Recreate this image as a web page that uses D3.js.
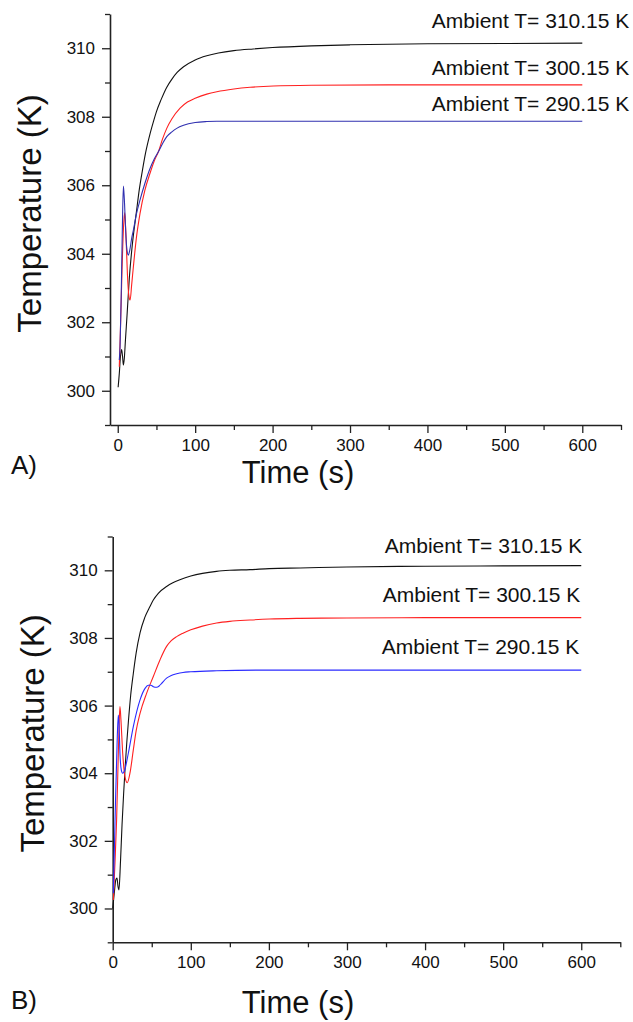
<!DOCTYPE html>
<html>
<head>
<meta charset="utf-8">
<script src="https://cdn.jsdelivr.net/npm/d3@7"></script>
<style>
  body { margin: 0; background: #fff; }
  text { font-family: "Liberation Sans", Arial, sans-serif; fill: #111; }
</style>
</head>
<body>
<div id="chart"></div>
<script>
// ---- data ----
const seriesLabels = ["Ambient T= 310.15 K", "Ambient T= 300.15 K", "Ambient T= 290.15 K"];
const xMajorTicks = [0, 100, 200, 300, 400, 500, 600];
const xMinorTicks = [50, 150, 250, 350, 450, 550, 650];
const yMajorTicks = [300, 302, 304, 306, 308, 310];
const yMinorTicks = [299, 301, 303, 305, 307, 309, 311];

// panel A : [time (s), temperature (K)]
const a_T310 = [[0.5,300.1],[2,300.5],[3.5,301.0],[5,301.2],[6.2,301.0],[7.3,300.75],[8.5,300.95],[10,301.5],[12,302.2],[15,303.3],[19,304.3],[24,305.2],[28,305.9],[32,306.45],[36,306.95],[41.7,307.5],[46,307.85],[50,308.15],[56,308.5],[63,308.85],[70,309.1],[77,309.3],[85,309.46],[100,309.66],[115,309.78],[130,309.86],[150,309.93],[175,309.98],[200,310.02],[250,310.07],[300,310.1],[400,310.13],[500,310.14],[600,310.15]];
const a_T300 = [[2,300.7],[3.5,301.8],[5.5,303.5],[7.5,304.8],[9,305.2],[10.5,304.6],[12.5,303.4],[14.5,302.75],[16,302.65],[18,303.1],[20.2,303.62],[24,304.45],[28.8,305.18],[35,305.85],[41.7,306.35],[47,306.7],[52.5,306.98],[58,307.36],[63.3,307.66],[70,307.94],[80.5,308.25],[90,308.43],[100,308.54],[115,308.66],[128,308.73],[150,308.81],[171,308.86],[201,308.9],[250,308.92],[350,308.93],[600,308.93]];
const a_T290 = [[2,300.9],[3,301.3],[4.5,302.8],[6,304.8],[7.3,305.98],[8.5,305.6],[10,304.8],[11.5,304.2],[13.7,303.96],[15.5,304.1],[18,304.45],[20.2,304.69],[24,305.15],[28.8,305.57],[35,306.05],[41.7,306.49],[47,306.76],[52.5,306.98],[58,307.22],[63.3,307.42],[70,307.56],[76.2,307.66],[85,307.75],[100,307.83],[115,307.86],[128,307.87],[200,307.87],[600,307.87]];

// panel B
const b_T310 = [[0,300.0],[2,300.45],[4,300.85],[5.5,300.9],[6.8,300.65],[8,300.55],[10,301.4],[12,302.5],[14,303.4],[16,304.2],[18,304.9],[20,305.5],[23,306.3],[26.4,306.95],[30,307.55],[35,308.15],[41,308.6],[47.7,308.93],[52,309.12],[58.4,309.32],[69,309.52],[77,309.63],[86,309.72],[100,309.83],[115,309.91],[133,309.97],[150,310.0],[175.8,310.02],[200.5,310.05],[240,310.07],[300,310.1],[400,310.12],[500,310.13],[600,310.14]];
const b_T300 = [[0.8,300.25],[3,301.4],[5,302.62],[7.2,304.59],[8.3,305.5],[9.3,305.97],[10.5,305.6],[12.8,304.59],[15.7,303.9],[18.7,303.72],[22.1,304.0],[26.4,304.69],[30,305.25],[35,305.77],[43.5,306.37],[52,306.86],[60.5,307.35],[69,307.75],[75,307.92],[81.9,308.04],[90,308.14],[100,308.24],[115,308.35],[133,308.44],[150,308.49],[175.8,308.53],[200.5,308.56],[240,308.58],[300,308.59],[400,308.6],[600,308.6]];
const b_T290 = [[0.8,300.45],[3,302.6],[5.9,305.1],[7.2,305.72],[8.2,305.4],[9.3,304.59],[11,304.1],[12.7,304.0],[14,304.02],[15.7,304.12],[20,304.59],[26.4,305.38],[35,306.17],[41.4,306.51],[45.6,306.6],[49,306.6],[52,306.56],[56.3,306.54],[59.5,306.58],[62.7,306.66],[69,306.81],[75,306.89],[81.9,306.94],[90,306.98],[100,307.0],[133,307.03],[200,307.05],[600,307.05]];

const svg = d3.select("#chart")
              .append("svg")
              .attr("width", 633)
              .attr("height", 1022)
              .style("background", "#fff");

// one plot per panel
function drawPanel(p) {
    const x = d3.scaleLinear().domain(p.xDomain).range([p.left, p.right]);
    const y = d3.scaleLinear().domain([299, 311]).range([p.bottom, p.top]);

    const g = svg.append("g");

    // x axis: major + minor ticks
    g.append("g")
       .attr("transform", `translate(0, ${p.bottom})`)
       .call(d3.axisBottom(x).tickValues(xMajorTicks).tickSize(8).tickPadding(6).tickSizeOuter(0).tickFormat(d3.format("d")));
    g.append("g")
       .attr("transform", `translate(0, ${p.bottom})`)
       .call(d3.axisBottom(x).tickValues(xMinorTicks).tickSize(5).tickSizeOuter(0).tickFormat(""))
       .select(".domain").remove();

    // y axis
    g.append("g")
       .attr("transform", `translate(${p.left}, 0)`)
       .call(d3.axisLeft(y).tickValues(yMajorTicks).tickSize(8).tickPadding(7).tickSizeOuter(0).tickFormat(d3.format("d")));
    g.append("g")
       .attr("transform", `translate(${p.left}, 0)`)
       .call(d3.axisLeft(y).tickValues(yMinorTicks).tickSize(5).tickSizeOuter(0).tickFormat(""))
       .select(".domain").remove();

    g.selectAll(".domain").attr("stroke", "#222").attr("stroke-width", 1.6);
    g.selectAll(".tick line").attr("stroke", "#222").attr("stroke-width", 1.3);
    g.selectAll(".tick text")
     .style("font-family", "'Liberation Sans', Arial, sans-serif")
     .style("font-size", "17px")
     .attr("fill", "#111");

    // curves
    const line = d3.line()
                   .x(d => x(d[0]))
                   .y(d => y(d[1]))
                   .curve(d3.curveMonotoneX);

    g.append("g")
     .selectAll("path")
     .data(p.series)
     .join("path")
        .attr("d", d => line(d.values))
        .attr("fill", "none")
        .attr("stroke", d => d.color)
        .attr("stroke-width", 1.1);

    // labels above the plateaus
    g.append("g")
     .selectAll("text")
     .data(p.series)
     .join("text")
        .attr("x", (d, i) => x(600) + p.labelDx[i])
        .attr("y", d => y(d.values[d.values.length - 1][1]) - d.labelUp)
        .attr("text-anchor", "end")
        .style("font-size", "21px")
        .text((d, i) => seriesLabels[i]);

    // axis titles
    g.append("text")
     .attr("transform", `translate(${p.yTitleX}, ${(p.top + p.bottom) / 2 - 6}) rotate(-90)`)
     .attr("text-anchor", "middle")
     .style("font-size", "33px")
     .text("Temperature (K)");

    g.append("text")
     .attr("x", 298)
     .attr("y", p.xTitleY)
     .attr("text-anchor", "middle")
     .style("font-size", "31px")
     .text("Time (s)");

    g.append("text")
     .attr("x", 11)
     .attr("y", p.tagY)
     .style("font-size", "26px")
     .text(p.tag);
}

drawPanel({
    tag: "A)",
    xDomain: [-10, 650], left: 110, right: 621, top: 14, bottom: 425,
    yTitleX: 41, xTitleY: 483, tagY: 474,
    labelDx: [47, 47, 47],
    series: [
        {values: a_T310, color: "#111111", labelUp: 15},
        {values: a_T300, color: "#ff2020", labelUp: 10},
        {values: a_T290, color: "#3030b0", labelUp: 10}
    ]
});

drawPanel({
    tag: "B)",
    xDomain: [0, 650], left: 112.7, right: 620.3, top: 536.5, bottom: 942.3,
    yTitleX: 44, xTitleY: 1013, tagY: 1009,
    labelDx: [1, -1, -2],
    series: [
        {values: b_T310, color: "#111111", labelUp: 12.7},
        {values: b_T300, color: "#ff2020", labelUp: 15.7},
        {values: b_T290, color: "#2a2aff", labelUp: 15.7}
    ]
});
</script>
</body>
</html>
